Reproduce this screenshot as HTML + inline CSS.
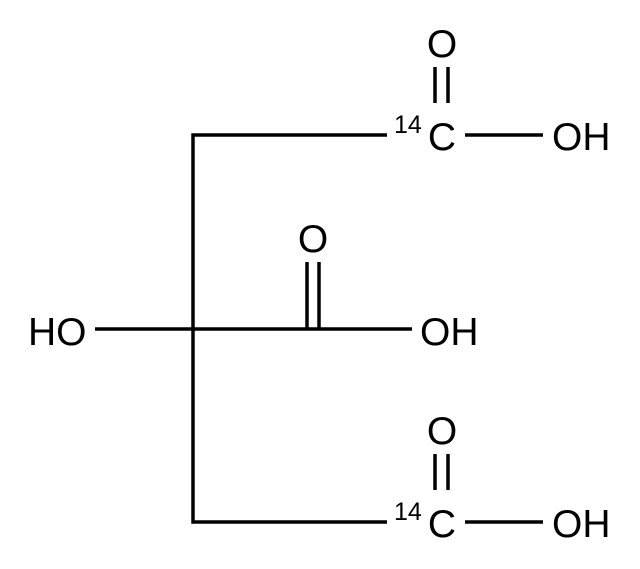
<!DOCTYPE html>
<html><head><style>body{margin:0;background:#fff}svg{display:block}</style></head>
<body>
<svg width="640" height="569" viewBox="0 0 640 569" xmlns="http://www.w3.org/2000/svg">
<g stroke="#000" stroke-width="3.5" fill="none">
<polyline points="387,135 193,135 193,522 387,522"/>
<line x1="95" y1="329" x2="412" y2="329"/>
<line x1="307" y1="262" x2="307" y2="329"/>
<line x1="319" y1="262" x2="319" y2="329"/>
<line x1="465" y1="135" x2="543" y2="135"/>
<line x1="435" y1="67" x2="435" y2="103"/>
<line x1="448" y1="67" x2="448" y2="103"/>
<line x1="465" y1="522" x2="543" y2="522"/>
<line x1="435" y1="454" x2="435" y2="490"/>
<line x1="448" y1="454" x2="448" y2="490"/>
</g>
<g font-family="Liberation Sans, sans-serif" font-size="39" fill="#000">
<text x="28" y="345">HO</text>
<text x="420" y="345">OH</text>
<text x="313" y="252" text-anchor="middle">O</text>
<text x="442" y="57" text-anchor="middle">O</text>
<text x="442" y="150" text-anchor="middle">C</text>
<text x="552" y="150">OH</text>
<text x="442" y="444" text-anchor="middle">O</text>
<text x="442" y="537" text-anchor="middle">C</text>
<text x="552" y="537">OH</text>
<text x="394" y="133" font-size="25">14</text>
<text x="394" y="520" font-size="25">14</text>
</g>
</svg>
</body></html>
